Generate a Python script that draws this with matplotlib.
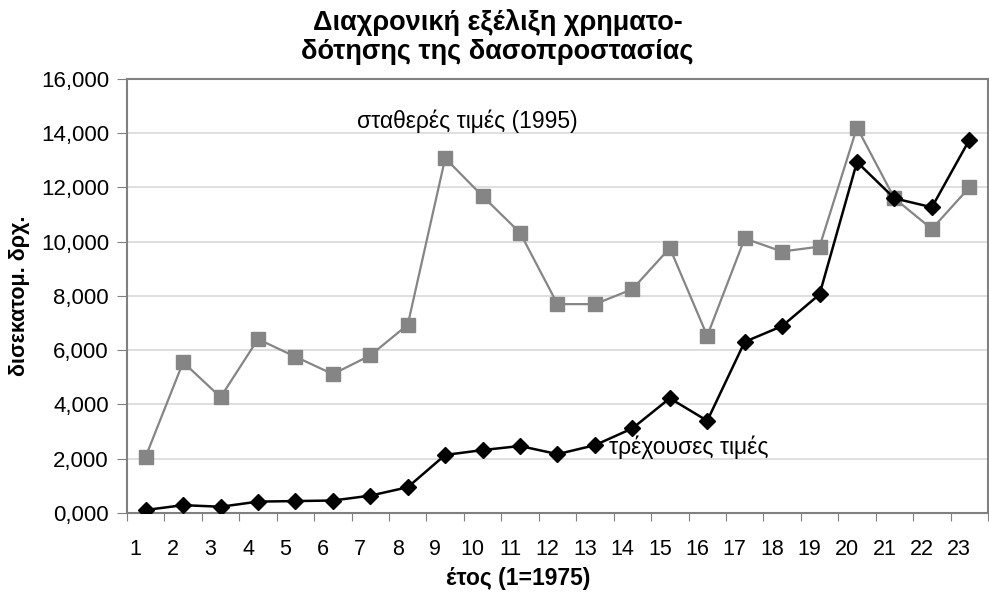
import matplotlib
matplotlib.use("Agg")
import matplotlib.pyplot as plt
import matplotlib.transforms as mtransforms

plt.rcParams['font.family'] = ['Liberation Sans', 'DejaVu Sans']

years = list(range(1, 24))
constant_prices = [2080, 5560, 4270, 6410, 5760, 5120, 5810, 6940, 13080, 11680,
                   10330, 7700, 7700, 8250, 9770, 6530, 10120, 9640, 9820, 14210,
                   11600, 10470, 12000]
current_prices = [110, 290, 230, 420, 440, 460, 640, 950, 2140, 2320,
                  2470, 2170, 2500, 3120, 4230, 3400, 6310, 6890, 8060, 12940,
                  11600, 11270, 13750]
y_ticks = [0, 2000, 4000, 6000, 8000, 10000, 12000, 14000, 16000]
y_tick_labels = ['0,000', '2,000', '4,000', '6,000', '8,000', '10,000', '12,000', '14,000', '16,000']
title = 'Διαχρονική εξέλιξη χρηματο-\nδότησης της δασοπροστασίας'

fig = plt.figure(figsize=(9.89, 5.97), dpi=100)
ax = fig.add_axes([0.1284, 0.1407, 0.8706, 0.727])

ax.plot(years, constant_prices, color='#858585', lw=1.6, marker='s', ms=10,
        mfc='#858585', mec='#858585', zorder=3)
ax.plot(years, current_prices, color='black', lw=1.8, marker='D', ms=8,
        mfc='black', mec='black', zorder=4)

ax.set_xlim(0.5, 23.5)
ax.set_ylim(0, 16000)
ax.set_yticks(y_ticks)
ax.set_yticklabels(y_tick_labels, fontsize=16)
ax.yaxis.grid(True, color='#d9d9d9', lw=1.2)
ax.set_axisbelow(True)

# category ticks at boundaries, labels at centres
ax.set_xticks([i + 0.5 for i in range(0, 24)], minor=False)
ax.set_xticklabels([''] * 24)
ax.set_xticks(years, minor=True)
ax.set_xticklabels([str(y) for y in years], minor=True, fontsize=15.5)
ax.tick_params(axis='x', which='minor', length=0, pad=19)
ax.tick_params(axis='x', which='major', length=6, color='#808080')
ax.tick_params(axis='y', length=7, color='#808080', pad=6)
offset = mtransforms.ScaledTranslation(-10 / 100, 0, fig.dpi_scale_trans)
for lab in ax.xaxis.get_minorticklabels():
    lab.set_transform(lab.get_transform() + offset)

for s in ax.spines.values():
    s.set_color('#808080')
    s.set_linewidth(1.5)

ax.set_ylabel('δισεκατομ. δρχ.', fontsize=15.5, fontweight='bold', labelpad=8)
ax.set_xlabel('έτος (1=1975)', fontsize=16.5, fontweight='bold')
ax.xaxis.set_label_coords(0.454, -0.125)

ax.text(9.6, 14450, 'σταθερές τιμές (1995)', fontsize=16.5, ha='center', va='center')
ax.text(15.5, 2430, 'τρέχουσες τιμές', fontsize=16.5, ha='center', va='center')

fig.suptitle(title, fontsize=19.5, fontweight='bold', x=0.503, y=0.985, linespacing=1.15)

fig.savefig('out.png', dpi=100)
